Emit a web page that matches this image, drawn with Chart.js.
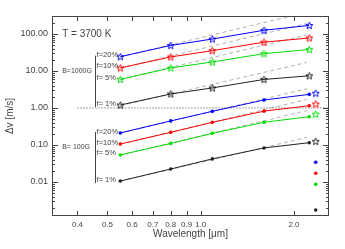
<!DOCTYPE html>
<html>
<head>
<meta charset="utf-8">
<script src="https://cdn.jsdelivr.net/npm/chart.js@4.4.1/dist/chart.umd.min.js"></script>
<style>
  body { margin: 0; background: #fff; }
</style>
</head>
<body>
<canvas id="chart" width="345" height="249"></canvas>
<script>
// band wavelengths [micron]
const wavelengths = [0.55, 0.8, 1.09, 1.6, 2.24];
const extraWavelength = [2.35];

// B = 1000 G (stars)
const strongF20 = [24.3, 49, 73, 126, 170];
const strongF10 = [12.1, 23.9, 35.4, 60, 78];
const strongF5 = [5.9, 12.1, 17.5, 29.4, 38];
const strongF1 = [1.2, 2.39, 3.47, 5.9, 7.4];
const strongExtra = [2.5, 1.28, 0.68, 0.125];

// B = 100 G (dots)
const weakF20 = [0.211, 0.446, 0.81, 1.64, 2.33];
const weakF10 = [0.106, 0.219, 0.408, 0.82, 1.15];
const weakF5 = [0.0537, 0.110, 0.206, 0.41, 0.58];
const weakF1 = [0.0106, 0.0224, 0.0419, 0.083, 0.115];
const weakExtra = [0.0339, 0.0171, 0.0086, 0.00175];

// grey dashed guides
const dashedX = [0.55, 2.2];
const strongDashed = [[24, 384], [12, 192], [5.9, 94], [1.15, 17]];
const weakDashed = [[0.21, 3.3], [0.105, 1.7], [0.053, 0.85], [0.0104, 0.16]];

// dotted line at 1 m/s
const dottedX = [0.4, 2.6];
const dottedY = [1, 1];

const xTicks = [0.4, 0.5, 0.6, 0.7, 0.8, 0.9, 1.0, 2.0];
const yTicks = [0.01, 0.1, 1, 10, 100];
const fLabels = ['f=20%', 'f=10%', 'f= 5%', 'f= 1%'];
const groupLabels = ['B=1000G', 'B= 100G'];
const title = 'T = 3700 K';

const colors = ['#0000ff', '#ff0000', '#00dd00', '#222222'];
const textColor = '#444';
const font = '"Liberation Sans", Arial, sans-serif';

// outlined 5 point star as a point style
function makeStar(color) {
  const c = document.createElement('canvas');
  c.width = 9; c.height = 9;
  const g = c.getContext('2d');
  g.strokeStyle = color;
  g.lineWidth = 1;
  g.beginPath();
  for (let i = 0; i < 10; i++) {
    const r = i % 2 ? 1.6 : 3.7;
    const a = -Math.PI / 2 + i * Math.PI / 5;
    const px = 4.5 + r * Math.cos(a), py = 4.8 + r * Math.sin(a);
    if (i) g.lineTo(px, py); else g.moveTo(px, py);
  }
  g.closePath();
  g.stroke();
  return c;
}
const stars = colors.map(makeStar);

const toPts = (xs, ys) => xs.map((x, i) => ({ x: x, y: ys[i] }));

const strong = [strongF20, strongF10, strongF5, strongF1];
const weak = [weakF20, weakF10, weakF5, weakF1];

const datasets = [];
strong.forEach((vals, i) => {
  datasets.push({
    data: toPts(wavelengths, vals), showLine: true, borderWidth: 1,
    borderColor: colors[i], pointStyle: stars[i], pointRadius: 4
  });
});
weak.forEach((vals, i) => {
  datasets.push({
    data: toPts(wavelengths, vals), showLine: true, borderWidth: 1,
    borderColor: colors[i], backgroundColor: colors[i],
    pointStyle: 'circle', pointRadius: 1.8, pointBorderWidth: 0
  });
});
datasets.push({
  data: strongExtra.map(v => ({ x: extraWavelength[0], y: v })),
  showLine: false, pointStyle: stars, pointRadius: 4
});
datasets.push({
  data: weakExtra.map(v => ({ x: extraWavelength[0], y: v })),
  showLine: false, pointStyle: 'circle', pointRadius: 1.8, pointBorderWidth: 0,
  backgroundColor: colors
});
strongDashed.concat(weakDashed).forEach(d => {
  datasets.push({
    data: toPts(dashedX, d), showLine: true, borderWidth: 1,
    borderColor: '#b0b0b0', borderDash: [4, 3], pointRadius: 0
  });
});
datasets.push({
  data: toPts(dottedX, dottedY), showLine: true, borderWidth: 1,
  borderColor: '#444', borderDash: [1, 2], pointRadius: 0
});

// box with inward ticks, like the original plot
const frame = {
  id: 'frame',
  afterDatasetsDraw(chart) {
    const { ctx, chartArea: a, scales: { x, y } } = chart;
    ctx.save();
    ctx.strokeStyle = '#444';
    ctx.lineWidth = 1;
    ctx.strokeRect(a.left + 0.5, a.top + 0.5, a.right - a.left - 1, a.bottom - a.top - 1);
    ctx.beginPath();
    for (let k = -3; k <= 2; k++) {
      for (let m = 1; m <= 9; m++) {
        const v = m * Math.pow(10, k);
        if (v < y.min || v > y.max) continue;
        const py = Math.round(y.getPixelForValue(v)) + 0.5;
        const len = m === 1 ? 6 : 3;
        ctx.moveTo(a.left, py); ctx.lineTo(a.left + len, py);
        ctx.moveTo(a.right, py); ctx.lineTo(a.right - len, py);
      }
    }
    xTicks.forEach(v => {
      const px = Math.round(x.getPixelForValue(v)) + 0.5;
      ctx.moveTo(px, a.bottom); ctx.lineTo(px, a.bottom - 5);
      ctx.moveTo(px, a.top); ctx.lineTo(px, a.top + 5);
    });
    ctx.stroke();
    ctx.restore();
  }
};

// text labels and brackets
const notes = {
  id: 'notes',
  afterDatasetsDraw(chart) {
    const { ctx, scales: { x, y } } = chart;
    ctx.save();
    ctx.fillStyle = textColor;
    ctx.strokeStyle = textColor;
    ctx.lineWidth = 1;
    ctx.textAlign = 'left';
    ctx.textBaseline = 'middle';
    ctx.font = '10px ' + font;
    ctx.fillText(title, x.getPixelForValue(0.357), y.getPixelForValue(100));

    const bx = Math.round(x.getPixelForValue(0.456)) + 0.5;
    const fx = x.getPixelForValue(0.461);
    [strong, weak].forEach((group, g) => {
      ctx.font = '7px ' + font;
      ctx.fillText(groupLabels[g], x.getPixelForValue(0.357), y.getPixelForValue(g ? 0.09 : 10.2));
      const top = y.getPixelForValue(group[0][0]) - 1;
      const bottom = y.getPixelForValue(group[3][0]) + 2;
      ctx.beginPath();
      ctx.moveTo(bx, top); ctx.lineTo(bx, bottom);
      ctx.stroke();
      ctx.font = '7.5px ' + font;
      group.forEach((vals, i) => {
        ctx.fillText(fLabels[i], fx, y.getPixelForValue(vals[0]) - 1.5);
      });
    });
    ctx.restore();
  }
};

new Chart(document.getElementById('chart'), {
  type: 'scatter',
  data: { datasets: datasets },
  options: {
    responsive: false,
    animation: false,
    devicePixelRatio: 1,
    layout: { padding: { top: 16, right: 16, left: 0, bottom: 0 } },
    plugins: { legend: { display: false }, tooltip: { enabled: false } },
    scales: {
      x: {
        type: 'logarithmic', position: 'bottom', bounds: 'data', min: 0.331, max: 2.594,
        afterBuildTicks: s => { s.ticks = xTicks.map(v => ({ value: v })); },
        afterFit: s => { s.height = 33; },
        grid: { display: false, drawTicks: false },
        border: { display: false },
        ticks: {
          autoSkip: false, maxRotation: 0, padding: 4, color: textColor,
          font: { family: font, size: 8 },
          callback: v => Number(v).toFixed(1)
        },
        title: {
          display: true, text: 'Wavelength [μm]', color: textColor,
          font: { family: font, size: 10 }, padding: { top: 0, bottom: 9 }
        }
      },
      y: {
        type: 'logarithmic', position: 'left', bounds: 'data', min: 0.0012, max: 306,
        afterBuildTicks: s => { s.ticks = yTicks.map(v => ({ value: v })); },
        afterFit: s => { s.width = 52; },
        grid: { display: false, drawTicks: false },
        border: { display: false },
        ticks: {
          autoSkip: false, padding: 4, color: textColor,
          font: { family: font, size: 9 },
          callback: v => Number(v).toFixed(2)
        },
        title: {
          display: true, text: 'Δv [m/s]', color: textColor,
          font: { family: font, size: 10 }, padding: { top: 4, bottom: 0 }
        }
      }
    }
  },
  plugins: [frame, notes]
});
</script>
</body>
</html>
